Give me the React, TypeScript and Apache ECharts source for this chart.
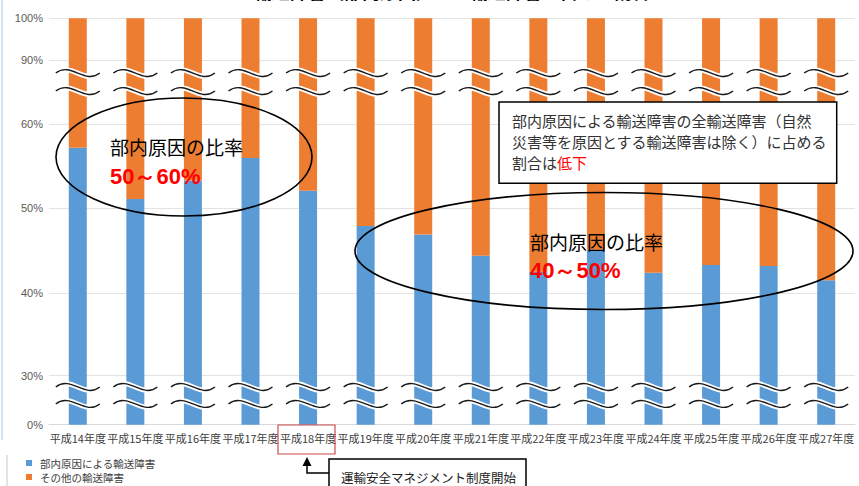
import React, { useEffect, useRef } from "react";
import * as echarts from "echarts";

const categories = [
  "平成14年度", "平成15年度", "平成16年度", "平成17年度", "平成18年度", "平成19年度", "平成20年度",
  "平成21年度", "平成22年度", "平成23年度", "平成24年度", "平成25年度", "平成26年度", "平成27年度",
];
// 部内原因による輸送障害 (%)
const internalShare = [57.2, 51.1, 53.3, 56.0, 52.1, 47.9, 46.9, 44.4, 42.5, 45.1, 42.4, 43.3, 43.2, 41.5];
// その他の輸送障害 (%)
const otherShare = [42.8, 48.9, 46.7, 44.0, 47.9, 52.1, 53.1, 55.6, 57.5, 54.9, 57.6, 56.7, 56.8, 58.5];
// y-axis tick labels (%)
const yTicks = [0, 30, 40, 50, 60, 90, 100];
// break-mark levels (%), inside the compressed ranges
const waveLevels = [12.7, 23.1, 75.5, 83.9];

const seriesNames = ["部内原因による輸送障害", "その他の輸送障害"];

// broken (piecewise-linear) value scale: percent -> axis units
const SCALE_PCT = [0, 30, 40, 50, 60, 90, 100];
const SCALE_POS = [0, 49, 131.7, 216.4, 300.4, 364.7, 406.4];
function toAxis(p: number): number {
  for (let i = 1; i < SCALE_PCT.length; i++) {
    if (p <= SCALE_PCT[i]) {
      const a = SCALE_PCT[i - 1], b = SCALE_PCT[i];
      return SCALE_POS[i - 1] + ((p - a) / (b - a)) * (SCALE_POS[i] - SCALE_POS[i - 1]);
    }
  }
  return SCALE_POS[SCALE_POS.length - 1];
}

const JP = "'Noto Sans CJK JP', 'Noto Sans', sans-serif";
const LAT = "'Liberation Sans', Arial, sans-serif";

export default function App() {
  const ref = useRef<HTMLDivElement>(null);
  useEffect(() => {
    document.body.style.margin = "0";
    if (!ref.current) return;
    const chart = echarts.init(ref.current, undefined, { renderer: "svg" });
    const tickPos = yTicks.map(toAxis);
    const option: any = {
      animation: false,
      backgroundColor: "#ffffff",
      grid: { left: 49, right: 4, top: 18.3, bottom: 61.3 },
      legend: {
        orient: "vertical",
        left: 26,
        top: 456,
        height: 30,
        padding: 0,
        icon: "rect",
        itemWidth: 6,
        itemHeight: 6,
        itemGap: 0,
        textStyle: { fontSize: 10.5, color: "#404040", fontFamily: JP, lineHeight: 14, padding: [0, 0, 0, 3] },
        data: seriesNames,
      },
      xAxis: {
        type: "category",
        data: categories,
        boundaryGap: true,
        axisLine: { show: true, lineStyle: { color: "#d9d9d9", width: 1 } },
        axisTick: { show: false },
        axisLabel: { fontSize: 11, color: "#404040", fontFamily: JP, margin: 8, interval: 0 },
        splitLine: { show: false },
      },
      yAxis: {
        type: "value",
        min: 0,
        max: SCALE_POS[SCALE_POS.length - 1],
        axisLine: { show: false },
        axisTick: { show: false, customValues: tickPos },
        axisLabel: {
          customValues: tickPos,
          fontSize: 11,
          color: "#595959",
          fontFamily: LAT,
          margin: 6,
          formatter: (v: number) => {
            const i = tickPos.findIndex((t) => Math.abs(t - v) < 0.05);
            return i >= 0 ? `${yTicks[i]}%` : "";
          },
        },
        splitLine: { show: true, lineStyle: { color: "#e3e3e3", width: 1 } },
      },
      series: [
        {
          name: seriesNames[0],
          type: "bar",
          stack: "share",
          barWidth: 18,
          itemStyle: { color: "#5b9bd5" },
          data: internalShare.map((v) => toAxis(v)),
        },
        {
          name: seriesNames[1],
          type: "bar",
          stack: "share",
          barWidth: 18,
          itemStyle: { color: "#ed7d31" },
          data: internalShare.map((v, i) => toAxis(v + otherShare[i]) - toAxis(v)),
        },
        {
          name: "breaks",
          type: "custom",
          silent: true,
          z: 4,
          data: categories.map((_, i) => [i]),
          encode: { x: 0 },
          renderItem: (params: any, api: any) => {
            const idx = api.value(0);
            const cx = api.coord([idx, 0])[0];
            const children: any[] = [];
            waveLevels.forEach((lv) => {
              const y = api.coord([idx, toAxis(lv)])[1];
              const shape = {
                x1: cx - 22, y1: y, x2: cx + 22, y2: y,
                cpx1: cx - 7, cpy1: y - 12, cpx2: cx + 7, cpy2: y + 12,
              };
              children.push({ type: "bezierCurve", shape, style: { stroke: "#ffffff", lineWidth: 5, fill: "none" } });
              children.push({ type: "bezierCurve", shape, style: { stroke: "#1a1a1a", lineWidth: 1.4, fill: "none" } });
            });
            return { type: "group", children };
          },
        },
      ],
      graphic: [
        // title, cut off at the very top as in the source image
        {
          type: "text", x: 452, y: -9, z: 100,
          style: { text: "輸送障害（部内原因）の全輸送障害に占める割合", fontSize: 18, fontWeight: "bold", fill: "#000", fontFamily: JP, align: "center", verticalAlign: "middle" },
        },
        // left frame edge
        { type: "line", z: 100, shape: { x1: 2, y1: 0, x2: 2, y2: 440 }, style: { stroke: "#a9c8e8", lineWidth: 1 } },
        { type: "line", z: 100, shape: { x1: 7, y1: 455, x2: 7, y2: 486 }, style: { stroke: "#c8c8c8", lineWidth: 1 } },
        // ellipse 1
        { type: "ellipse", z: 100, shape: { cx: 184, cy: 157, rx: 128, ry: 59 }, style: { fill: "none", stroke: "#000", lineWidth: 1.6 } },
        { type: "text", z: 101, x: 110, y: 146, style: { text: "部内原因の比率", fontSize: 19, fill: "#000", fontFamily: JP, verticalAlign: "middle" } },
        { type: "text", z: 101, x: 110, y: 176, style: { text: "50～60%", fontSize: 22, fontWeight: "bold", fill: "#ff0000", fontFamily: LAT, verticalAlign: "middle" } },
        // ellipse 2
        { type: "ellipse", z: 100, shape: { cx: 604, cy: 251, rx: 249, ry: 58.5 }, style: { fill: "none", stroke: "#000", lineWidth: 1.6 } },
        { type: "text", z: 101, x: 530, y: 241, style: { text: "部内原因の比率", fontSize: 19, fill: "#000", fontFamily: JP, verticalAlign: "middle" } },
        { type: "text", z: 101, x: 530, y: 270, style: { text: "40～50%", fontSize: 22, fontWeight: "bold", fill: "#ff0000", fontFamily: LAT, verticalAlign: "middle" } },
        // note box
        { type: "rect", z: 100, shape: { x: 499, y: 102, width: 337.7, height: 81.3 }, style: { fill: "#ffffff", stroke: "#000", lineWidth: 1.5 } },
        {
          type: "text", z: 101, x: 512, y: 110,
          style: {
            text: "部内原因による輸送障害の全輸送障害（自然\n災害等を原因とする輸送障害は除く）に占める\n割合は{r|低下}",
            fontSize: 15, lineHeight: 21, fill: "#333333", fontFamily: JP,
            rich: { r: { fill: "#ff0000", fontSize: 15, lineHeight: 21, fontFamily: JP } },
          },
        },
        // red frame around 平成18年度
        { type: "rect", z: 100, shape: { x: 278, y: 425, width: 57, height: 29 }, style: { fill: "none", stroke: "#d04a4a", lineWidth: 1.2 } },
        // arrow
        { type: "polyline", z: 100, shape: { points: [[329, 473], [307, 473], [307, 464]] }, style: { stroke: "#000", lineWidth: 1.5, fill: "none" } },
        { type: "polygon", z: 100, shape: { points: [[307, 457], [302.5, 466], [311.5, 466]] }, style: { fill: "#000" } },
        // start box
        { type: "rect", z: 100, shape: { x: 329, y: 459, width: 197, height: 40 }, style: { fill: "#ffffff", stroke: "#000", lineWidth: 1.5 } },
        { type: "text", z: 101, x: 341, y: 477, style: { text: "運輸安全マネジメント制度開始", fontSize: 12.5, fill: "#222", fontFamily: JP, verticalAlign: "middle" } },
      ],
    };
    chart.setOption(option);
    return () => chart.dispose();
  }, []);
  return <div ref={ref} style={{ width: 859, height: 486 }} />;
}
